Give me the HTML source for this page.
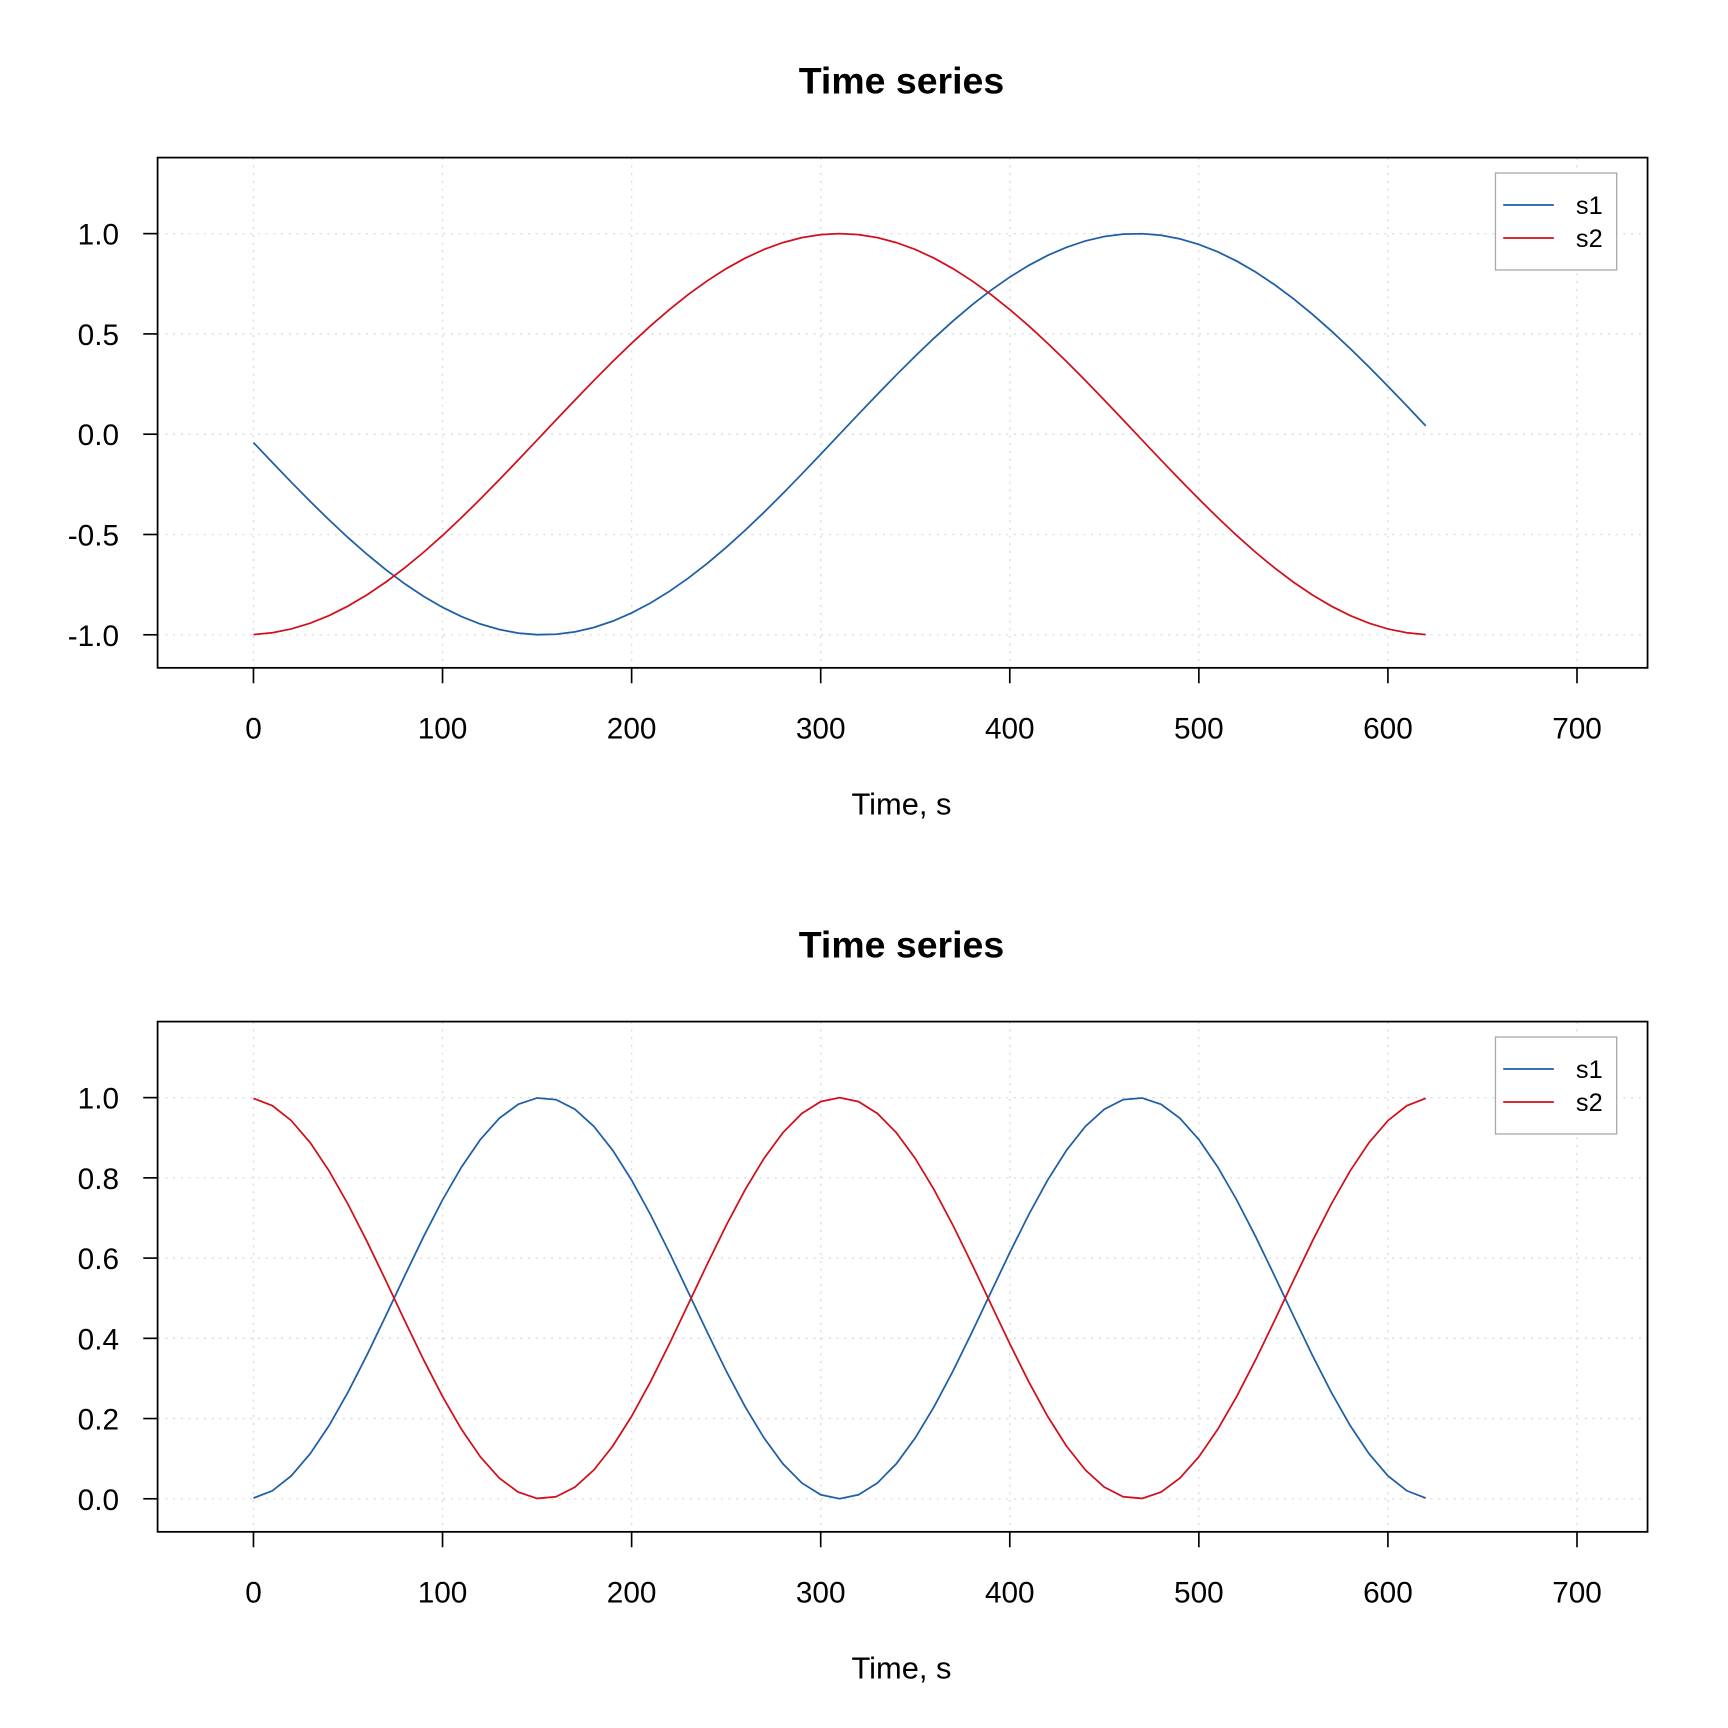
<!DOCTYPE html>
<html><head><meta charset="utf-8"><style>
html,body{margin:0;padding:0;background:#fff}
svg{display:block}
text{font-family:"Liberation Sans",Arial,sans-serif;fill:#000}
</style></head><body>
<svg id="s" width="1728" height="1728" viewBox="0 0 1568 1568" xmlns="http://www.w3.org/2000/svg"></svg>
<script>
var svg=document.getElementById('s'),h='';
function X(t){return 230+t*1.7157;}
function panel(off,yt,ylab,y0,ys,f1,f2){
  h+='<text x="818" y="'+(off+85)+'" font-size="34" font-weight="bold" text-anchor="middle">Time series</text>';
  var top=off+143,bot=off+606;
  for(var t=0;t<=700;t+=100){h+='<line x1="'+X(t)+'" y1="'+top+'" x2="'+X(t)+'" y2="'+bot+'" stroke="#ddd" stroke-width="1.2" stroke-dasharray="2,5"/>';}
  yt.forEach(function(v,i){var y=off+y0-v*ys;h+='<line x1="143" y1="'+y+'" x2="1495" y2="'+y+'" stroke="#ddd" stroke-width="1.2" stroke-dasharray="2,5"/>';
    h+='<line x1="130" y1="'+y+'" x2="143" y2="'+y+'" stroke="#000" stroke-width="1.5"/>';
    h+='<text x="108" y="'+(y+10)+'" font-size="27" text-anchor="end">'+ylab[i]+'</text>';});
  for(var t=0;t<=700;t+=100){h+='<line x1="'+X(t)+'" y1="'+bot+'" x2="'+X(t)+'" y2="'+(bot+14)+'" stroke="#000" stroke-width="1.5"/>';
    h+='<text x="'+X(t)+'" y="'+(bot+64)+'" font-size="27" text-anchor="middle">'+t+'</text>';}
  h+='<text x="818" y="'+(off+739)+'" font-size="28" text-anchor="middle">Time, s</text>';
  [[f1,'#1f5fa5'],[f2,'#d0101c']].forEach(function(p){var d='';for(var t=0;t<=620;t+=10){d+=(t?'L':'M')+X(t).toFixed(2)+','+(off+y0-p[0](t)*ys).toFixed(2);}
    h+='<path d="'+d+'" fill="none" stroke="'+p[1]+'" stroke-width="1.6"/>';});
  h+='<rect x="143" y="'+top+'" width="1352" height="463" fill="none" stroke="#000" stroke-width="1.6"/>';
  h+='<rect x="1357" y="'+(off+157)+'" width="110" height="88" fill="#fff" stroke="#aaa" stroke-width="1.2"/>';
  h+='<line x1="1364" y1="'+(off+186)+'" x2="1410" y2="'+(off+186)+'" stroke="#1f5fa5" stroke-width="1.6"/>';
  h+='<line x1="1364" y1="'+(off+216)+'" x2="1410" y2="'+(off+216)+'" stroke="#d0101c" stroke-width="1.6"/>';
  h+='<text x="1430" y="'+(off+194)+'" font-size="23">s1</text>';
  h+='<text x="1430" y="'+(off+224)+'" font-size="23">s2</text>';
}
panel(0,[-1,-0.5,0,0.5,1],['-1.0','-0.5','0.0','0.5','1.0'],394,182,
 function(t){return Math.sin((t-310)/100);},function(t){return Math.cos((t-310)/100);});
panel(784,[0,0.2,0.4,0.6,0.8,1],['0.0','0.2','0.4','0.6','0.8','1.0'],576,364,
 function(t){var s=Math.sin((t-310)/100);return s*s;},function(t){var c=Math.cos((t-310)/100);return c*c;});
svg.innerHTML=h;
</script>
</body></html>
